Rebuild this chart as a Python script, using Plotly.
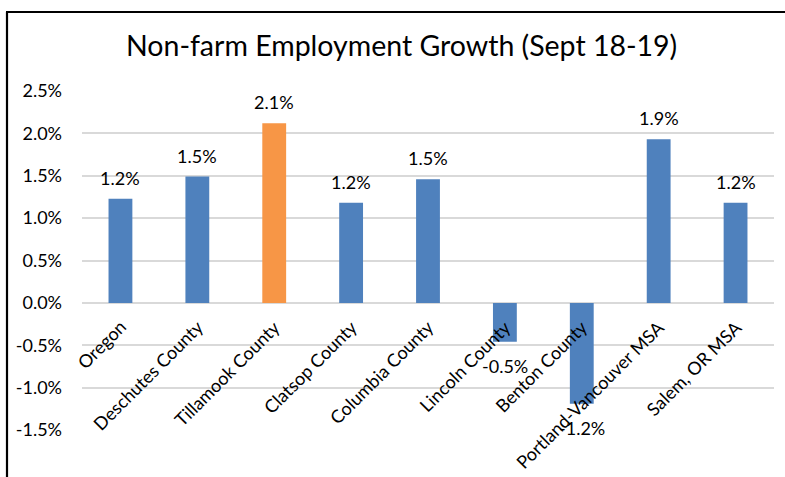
import plotly.graph_objects as go

# Non-farm employment growth, Sept 2018 to Sept 2019 (percent)
regions = ["Oregon", "Deschutes County", "Tillamook County", "Clatsop County",
           "Columbia County", "Lincoln County", "Benton County",
           "Portland-Vancouver MSA", "Salem, OR MSA"]
growth = [1.23, 1.49, 2.12, 1.18, 1.46, -0.46, -1.19, 1.93, 1.18]
highlight = "Tillamook County"

y_ticks = [2.5, 2.0, 1.5, 1.0, 0.5, 0.0, -0.5, -1.0, -1.5]
y_tick_text = ["2.5%", "2.0%", "1.5%", "1.0%", "0.5%", "0.0%", "-0.5%", "-1.0%", "-1.5%"]

BLUE = "#4F81BD"
ORANGE = "#F79646"
FONT = "Lato"

W, H = 785, 477
ML, MR, MT, MB = 82, 11, 91, 47
pw, ph = W - ML - MR, H - MT - MB


def px_x(p):
    return (p - ML) / pw


def px_y(p):
    return (H - p - MB) / ph


colors = [ORANGE if r == highlight else BLUE for r in regions]

fig = go.Figure(go.Bar(
    x=regions, y=growth, marker=dict(color=colors, line=dict(width=0)),
    width=0.31, hoverinfo="skip",
))

annotations = []
# value labels outside the bar ends
for r, v in zip(regions, growth):
    annotations.append(dict(
        x=r, y=v, xref="x", yref="y", text=f"{v:.1f}%", showarrow=False,
        xanchor="center", yanchor="bottom" if v >= 0 else "top",
        yshift=8 if v >= 0 else -11,
        font=dict(family=FONT, size=18, color="#000000"),
    ))
# category labels hanging from the zero line
for r in regions:
    annotations.append(dict(
        x=r, y=0, xref="x", yref="y", text=r, showarrow=False,
        textangle=-45, xanchor="right", yanchor="top",
        xshift=13, yshift=-10,
        font=dict(family=FONT, size=18, color="#000000"),
    ))
annotations.append(dict(
    x=px_x(401), y=px_y(45), xref="paper", yref="paper",
    text="Non-farm Employment Growth (Sept 18-19)",
    showarrow=False, xanchor="center", yanchor="middle",
    font=dict(family=FONT, size=28.5, color="#000000"),
))

# chart frame: left and top edges
shapes = [
    dict(type="line", xref="paper", yref="paper", x0=px_x(7), x1=px_x(7),
         y0=px_y(12), y1=px_y(H + 5), line=dict(color="#000000", width=2.2)),
    dict(type="line", xref="paper", yref="paper", x0=px_x(6), x1=px_x(W + 5),
         y0=px_y(12), y1=px_y(12), line=dict(color="#000000", width=2.2)),
]

fig.update_layout(
    width=W, height=H,
    margin=dict(l=ML, r=MR, t=MT, b=MB, pad=0),
    paper_bgcolor="#FFFFFF", plot_bgcolor="#FFFFFF",
    showlegend=False,
    annotations=annotations, shapes=shapes,
    bargap=0.69,
)
fig.update_xaxes(range=[-0.5, len(regions) - 0.5], autorange=False,
                 showticklabels=False, showgrid=False, zeroline=False,
                 showline=False, ticks="")
fig.update_yaxes(range=[-1.5, 2.5], autorange=False,
                 tickvals=y_ticks, ticktext=y_tick_text,
                 showgrid=True, gridcolor="#D9D9D9", gridwidth=1.8,
                 zeroline=True, zerolinecolor="#D9D9D9", zerolinewidth=1.8,
                 showline=False, ticks="", ticklabelstandoff=19,
                 tickfont=dict(family=FONT, size=18, color="#000000"))

fig.write_html("out.html")
